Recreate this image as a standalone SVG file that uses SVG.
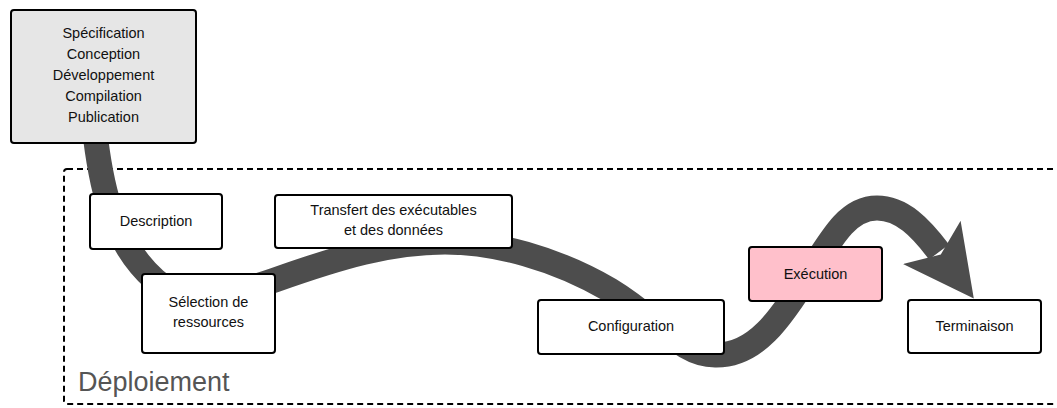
<svg xmlns="http://www.w3.org/2000/svg" width="1057" height="408" viewBox="0 0 1057 408">
  <style>
    .box { fill: #ffffff; stroke: #000000; stroke-width: 2; }
    .source { fill: #e6e6e6; }
    .running { fill: #ffc0cb; }
    .lbl { font-family: "Liberation Sans", Arial, sans-serif; font-size: 14.5px; fill: #111111; text-anchor: middle; }
    .frame { fill: none; stroke: #000000; stroke-width: 2; stroke-dasharray: 6 4; }
    .frame-title { font-family: "Liberation Sans", Arial, sans-serif; font-size: 27px; fill: #555555; }
    .flow { fill: none; stroke: #4d4d4d; stroke-width: 25; stroke-linecap: butt; }
  </style>
  <defs>
    <marker id="bigArrow" markerUnits="userSpaceOnUse" viewBox="0 -36 70 72" markerWidth="70" markerHeight="72" refX="12" refY="0" orient="auto">
      <path d="M0,-36 L70,0 L0,36 L15,0 Z" fill="#4d4d4d"/>
    </marker>
  </defs>

  <!-- deployment frame -->
  <g id="deploiement">
    <rect class="frame" x="64" y="169" width="1000" height="235" rx="3"/>
    <text class="frame-title" x="78" y="391">Déploiement</text>
  </g>

  <!-- lifecycle flow -->
  <g id="connectors">
    <path class="flow" marker-end="url(#bigArrow)"
      d="M94,125 C100,180 110,240 155,280
         C185,307 250,289 275,280
         C340,257 390,242 445,242
         C495,242 555,258 610,290
         C660,320 680,355 715,355
         C755,356 780,320 810,272
         C835,232 850,208 877,208
         C902,208 921,228 939,252"/>
  </g>

  <g id="dev">
    <rect class="box source" x="11" y="10" width="185" height="133" rx="3"/>
    <text class="lbl" x="103.5" y="37.5">Spécification</text>
    <text class="lbl" x="103.5" y="58.5">Conception</text>
    <text class="lbl" x="103.5" y="79.5">Développement</text>
    <text class="lbl" x="103.5" y="100.5">Compilation</text>
    <text class="lbl" x="103.5" y="121.5">Publication</text>
  </g>

  <g id="description">
    <rect class="box" x="90" y="194" width="132" height="55" rx="3"/>
    <text class="lbl" x="156" y="226">Description</text>
  </g>

  <g id="selection">
    <rect class="box" x="142" y="274" width="133" height="79" rx="3"/>
    <text class="lbl" x="208.5" y="306.5">Sélection de</text>
    <text class="lbl" x="208.5" y="327">ressources</text>
  </g>

  <g id="transfert">
    <rect class="box" x="275" y="195" width="237" height="53" rx="3"/>
    <text class="lbl" x="393.5" y="214.5">Transfert des exécutables</text>
    <text class="lbl" x="393.5" y="234.5">et des données</text>
  </g>

  <g id="configuration">
    <rect class="box" x="538" y="300" width="186" height="54" rx="3"/>
    <text class="lbl" x="631" y="331">Configuration</text>
  </g>

  <g id="execution">
    <rect class="box running" x="749" y="247" width="133" height="54" rx="3"/>
    <text class="lbl" x="815.5" y="278.5">Exécution</text>
  </g>

  <g id="terminaison">
    <rect class="box" x="908" y="300" width="133" height="53" rx="3"/>
    <text class="lbl" x="974.5" y="331">Terminaison</text>
  </g>
</svg>
